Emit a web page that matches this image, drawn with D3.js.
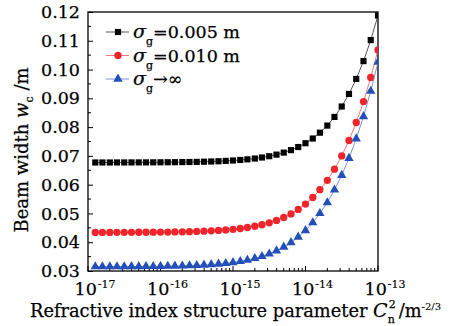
<!DOCTYPE html>
<html>
<head>
<meta charset="utf-8">
<script src="https://cdn.jsdelivr.net/npm/d3@7"></script>
<style>
  body { margin: 0; background: #fff; }
  text { font-family: "DejaVu Serif", serif; fill: #000; stroke: #000; stroke-width: 0.25px; }
</style>
</head>
<body>
<div class="chart"></div>
<script>
// Data: refractive index structure parameter Cn2 (m^-2/3) and beam width wc (m)
var cn2 = [
  1.26e-17, 1.58e-17, 2.00e-17, 2.51e-17, 3.16e-17, 3.98e-17, 5.01e-17, 6.31e-17, 7.94e-17, 1.00e-16,
  1.26e-16, 1.58e-16, 2.00e-16, 2.51e-16, 3.16e-16, 3.98e-16, 5.01e-16, 6.31e-16, 7.94e-16, 1.00e-15,
  1.26e-15, 1.58e-15, 2.00e-15, 2.51e-15, 3.16e-15, 3.98e-15, 5.01e-15, 6.31e-15, 7.94e-15, 1.00e-14,
  1.26e-14, 1.58e-14, 2.00e-14, 2.51e-14, 3.16e-14, 3.98e-14, 5.01e-14, 6.31e-14, 7.94e-14, 1.00e-13
];

var sigma005 = [
  0.06771, 0.06771, 0.06771, 0.06772, 0.06772, 0.06773, 0.06774, 0.06774, 0.06776, 0.06777,
  0.06779, 0.06781, 0.06784, 0.06788, 0.06792, 0.06798, 0.06805, 0.06814, 0.06826, 0.06840,
  0.06858, 0.06880, 0.06909, 0.06944, 0.06989, 0.07044, 0.07114, 0.07200, 0.07308, 0.07440,
  0.07604, 0.07806, 0.08053, 0.08353, 0.08716, 0.09153, 0.09674, 0.10294, 0.11024, 0.11880
];

var sigma010 = [
  0.04341, 0.04342, 0.04342, 0.04343, 0.04343, 0.04344, 0.04346, 0.04347, 0.04349, 0.04351,
  0.04354, 0.04357, 0.04362, 0.04368, 0.04375, 0.04384, 0.04395, 0.04409, 0.04426, 0.04448,
  0.04476, 0.04511, 0.04554, 0.04608, 0.04674, 0.04757, 0.04859, 0.04985, 0.05139, 0.05326,
  0.05553, 0.05826, 0.06152, 0.06540, 0.06998, 0.07535, 0.08161, 0.08886, 0.09723, 0.10683
];

var sigmaInf = [
  0.03152, 0.03152, 0.03153, 0.03154, 0.03155, 0.03156, 0.03158, 0.03160, 0.03162, 0.03165,
  0.03169, 0.03174, 0.03180, 0.03188, 0.03197, 0.03210, 0.03225, 0.03244, 0.03268, 0.03298,
  0.03335, 0.03381, 0.03439, 0.03509, 0.03597, 0.03704, 0.03834, 0.03992, 0.04182, 0.04410,
  0.04682, 0.05003, 0.05379, 0.05819, 0.06329, 0.06918, 0.07595, 0.08370, 0.09253, 0.10258
];

var yTicks = [0.03, 0.04, 0.05, 0.06, 0.07, 0.08, 0.09, 0.10, 0.11, 0.12];
var xExponents = [-17, -16, -15, -14, -13];
var legendValues = ["=0.005 m", "=0.010 m", "\u2192\u221E"];

// Chart params
var svgWidth = 460;
var svgHeight = 326;
var margin = { top: 12, right: 82, bottom: 55, left: 88 };
var width = svgWidth - margin.left - margin.right;
var height = svgHeight - margin.top - margin.bottom;

var svg = d3.select(".chart")
  .append("svg")
  .attr("width", svgWidth)
  .attr("height", svgHeight);

var chartGroup = svg.append("g")
  .attr("transform", `translate(${margin.left}, ${margin.top})`);

// Scales
var xLogScale = d3.scaleLog()
  .domain([1e-17, 1e-13])
  .range([0, width]);

var yLinearScale = d3.scaleLinear()
  .domain([0.03, 0.12])
  .range([height, 0]);

// Clip so the end markers are cut at the frame
svg.append("defs").append("clipPath")
  .attr("id", "plot-clip")
  .append("rect")
  .attr("width", width)
  .attr("height", height);

// Left axis: inward ticks, minor at half steps
var leftAxis = d3.axisLeft(yLinearScale)
  .tickValues(yTicks)
  .tickFormat(d3.format(".2f"))
  .tickSizeInner(-5)
  .tickSizeOuter(0)
  .tickPadding(8);

var yAxisG = chartGroup.append("g").call(leftAxis);
yAxisG.select(".domain").remove();
yAxisG.selectAll("text")
  .style("font-size", "17.5px")
  .style("font-family", "'DejaVu Serif', serif");

var yMinor = d3.range(0.035, 0.12, 0.01);
chartGroup.selectAll(".yminor")
  .data(yMinor)
  .enter()
  .append("line")
  .attr("x1", 0).attr("x2", 3)
  .attr("y1", d => yLinearScale(d)).attr("y2", d => yLinearScale(d))
  .attr("stroke", "#000");

// Bottom axis: major decades and minor 2..9 ticks, all inward
var minorX = [];
xExponents.slice(0, -1).forEach(function(e) {
  for (var m = 2; m <= 9; m++) minorX.push(m * Math.pow(10, e));
});

chartGroup.selectAll(".xminor")
  .data(minorX)
  .enter()
  .append("line")
  .attr("x1", d => xLogScale(d)).attr("x2", d => xLogScale(d))
  .attr("y1", height).attr("y2", height - 3)
  .attr("stroke", "#000");

chartGroup.selectAll(".xmajor")
  .data(xExponents)
  .enter()
  .append("line")
  .attr("x1", d => xLogScale(Math.pow(10, d))).attr("x2", d => xLogScale(Math.pow(10, d)))
  .attr("y1", height).attr("y2", height - 5)
  .attr("stroke", "#000");

var xLabels = chartGroup.selectAll(".xlabel")
  .data(xExponents)
  .enter()
  .append("text")
  .attr("x", d => xLogScale(Math.pow(10, d)) + 7)
  .attr("y", height + 24)
  .attr("text-anchor", "middle")
  .style("font-size", "17.5px");
xLabels.append("tspan").text("10");
xLabels.append("tspan")
  .attr("dy", -7)
  .attr("dx", 1)
  .style("font-size", "11px")
  .style("stroke-width", "0.15px")
  .text(d => "-" + Math.abs(d));

// Frame
chartGroup.append("rect")
  .attr("width", width)
  .attr("height", height)
  .attr("fill", "none")
  .attr("stroke", "#000")
  .attr("stroke-width", 1.3);

// Series
var series = [
  { values: sigma005, line: "#444", fill: "#000", shape: d3.symbolSquare, size: 38 },
  { values: sigma010, line: "#f26a6a", fill: "#f0242a", shape: d3.symbolCircle, size: 42 },
  { values: sigmaInf, line: "#6a8ad8", fill: "#2350b8", shape: d3.symbolTriangle, size: 38 }
];

var plot = chartGroup.append("g").attr("clip-path", "url(#plot-clip)");

series.forEach(function(s) {
  var pts = cn2.map((c, i) => [c, s.values[i]]);
  var line = d3.line()
    .x(d => xLogScale(d[0]))
    .y(d => yLinearScale(d[1]));

  plot.append("path")
    .datum(pts)
    .attr("d", line)
    .attr("fill", "none")
    .attr("stroke", s.line)
    .attr("stroke-width", 0.9);

  plot.selectAll(null)
    .data(pts)
    .enter()
    .append("path")
    .attr("d", d3.symbol().type(s.shape).size(s.size))
    .attr("transform", d => `translate(${xLogScale(d[0])}, ${yLinearScale(d[1])})`)
    .attr("fill", s.fill);
});

// Legend
var legend = chartGroup.append("g").attr("transform", "translate(18, 20)");
series.forEach(function(s, i) {
  var row = legend.append("g").attr("transform", `translate(0, ${i * 23.5})`);
  row.append("line")
    .attr("x1", 0).attr("x2", 23)
    .attr("stroke", s.line)
    .attr("stroke-width", 0.9);
  row.append("path")
    .attr("d", d3.symbol().type(s.shape).size(s.size))
    .attr("transform", "translate(12, 0)")
    .attr("fill", s.fill);
  var t = row.append("text")
    .attr("x", 27)
    .attr("y", 6)
    .style("font-size", "17.5px");
  t.append("tspan").style("font-style", "italic").style("font-size", "19px").text("\u03C3");
  t.append("tspan").attr("dy", 7).style("font-size", "11px").text("g");
  t.append("tspan").attr("dy", -7).text(legendValues[i]);
});

// Axis titles
var yTitle = svg.append("text")
  .attr("transform", "translate(28, 150) rotate(-90)")
  .attr("text-anchor", "middle")
  .style("font-size", "18px");
yTitle.append("tspan").text("Beam width ");
yTitle.append("tspan").style("font-style", "italic").text("w");
yTitle.append("tspan").attr("dy", 5).style("font-size", "11px").text("c");
yTitle.append("tspan").attr("dy", -5).text(" /m");

var xTitle = svg.append("text")
  .attr("x", 30)
  .attr("y", 317)
  .style("font-size", "17.8px");
xTitle.append("tspan").text("Refractive index structure parameter ");
xTitle.append("tspan").style("font-style", "italic").style("font-size", "19px").text("C");
xTitle.append("tspan").attr("dy", 6).style("font-size", "11px").text("n");
xTitle.append("tspan").attr("dy", -15).attr("dx", -6).style("font-size", "11px").text("2");
xTitle.append("tspan").attr("dy", 9).attr("dx", 3).text("/m");
xTitle.append("tspan").attr("dy", -7).style("font-size", "10px").style("stroke-width", "0.1px").text("-2/3");
</script>
</body>
</html>
